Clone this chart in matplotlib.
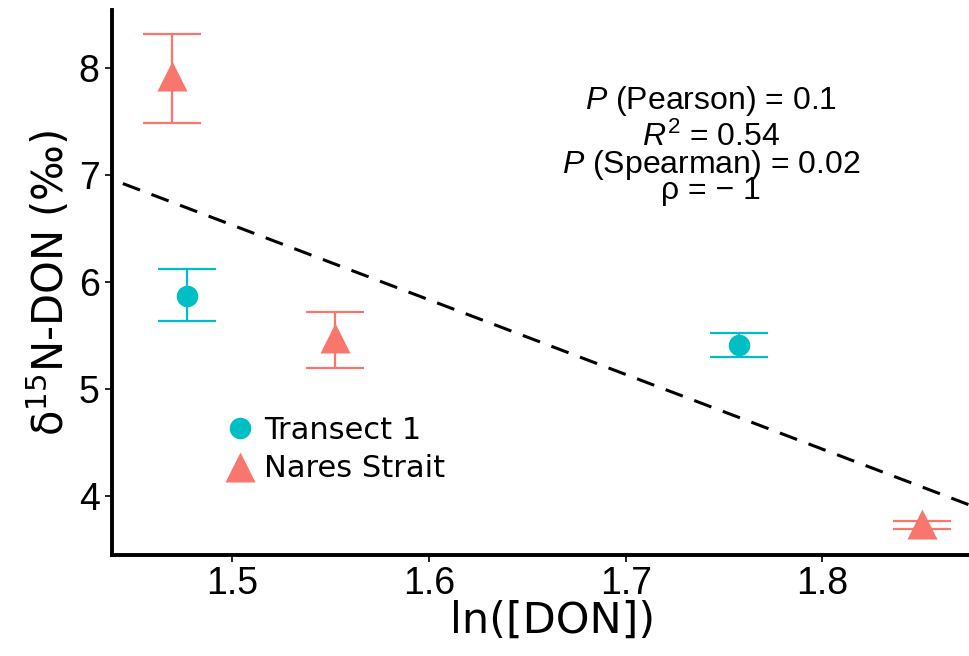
import numpy as np
import matplotlib
matplotlib.use("Agg")
import matplotlib.pyplot as plt
from matplotlib.lines import Line2D

# transect 1 (circles) and nares strait (triangles)
t1_x = [1.477, 1.7575]
t1_y = [5.87, 5.41]
t1_lo = [5.63, 5.30]
t1_hi = [6.12, 5.52]

ns_x = [1.4695, 1.5524, 1.8506]
ns_y = [7.92, 5.48, 3.74]
ns_lo = [7.48, 5.20, 3.69]
ns_hi = [8.31, 5.72, 3.77]

stats_lines = [r"$\mathit{P}$ (Pearson) = 0.1",
               r"$\mathit{R}^2$ = 0.54",
               r"$\mathit{P}$ (Spearman) = 0.02",
               "ρ = − 1"]

teal = "#00BFC4"
salmon = "#F8766D"

plt.rcParams["mathtext.fontset"] = "custom"
plt.rcParams["mathtext.rm"] = "Liberation Sans"
plt.rcParams["mathtext.it"] = "Liberation Sans:italic"

fig = plt.figure(figsize=(9.7, 6.56), dpi=100)
ax = fig.add_axes([0.1155, 0.154, 0.8845, 0.831])

# regression line through all points
allx = np.array(t1_x + ns_x)
ally = np.array(t1_y + ns_y)
slope, icpt = np.polyfit(allx, ally, 1)
xx = np.array([1.43, 1.88])
ax.plot(xx, slope * xx + icpt, color="k", lw=2.2, ls=(0, (6, 4)), zorder=1)

for x, y, lo, hi, col, mk, ms in [(t1_x, t1_y, t1_lo, t1_hi, teal, "o", 15.5),
                                  (ns_x, ns_y, ns_lo, ns_hi, salmon, "^", 21)]:
    y = np.array(y)
    yerr = [y - np.array(lo), np.array(hi) - y]
    ax.errorbar(x, y, yerr=yerr, fmt="none", ecolor=col, elinewidth=1.6,
                capsize=21, capthick=1.6, zorder=2)
    ax.plot(x, y, ls="none", marker=mk, color=col, ms=ms, mec="none", zorder=3)

for i, s in enumerate(stats_lines):
    ax.text(1.7433, [7.69, 7.35, 7.09, 6.85][i], s, ha="center", va="center",
            fontsize=23, color="k", family="Liberation Sans", zorder=4)

handles = [Line2D([], [], ls="none", marker="o", color=teal, ms=15.5, mec="none"),
           Line2D([], [], ls="none", marker="^", color=salmon, ms=21, mec="none")]
ax.legend(handles, ["Transect 1", "Nares Strait"], loc="center left",
          bbox_to_anchor=(0.09, 0.193), frameon=False, fontsize=22,
          handletextpad=0.05, labelspacing=0.3, handlelength=1.5)

ax.set_xlim(1.439, 1.875)
ax.set_ylim(3.45, 8.54)
ax.set_xticks([1.5, 1.6, 1.7, 1.8])
ax.set_yticks([4, 5, 6, 7, 8])
ax.set_xticklabels(["1.5", "1.6", "1.7", "1.8"])
ax.set_yticklabels(["4", "5", "6", "7", "8"])
for lab in ax.get_xticklabels() + ax.get_yticklabels():
    lab.set_family("Liberation Sans")
    lab.set_fontsize(27)
ax.tick_params(axis="x", length=5, width=1.2, color="k", pad=3)
ax.tick_params(axis="y", length=5, width=1.2, color="k", pad=4)

for sp in ["top", "right"]:
    ax.spines[sp].set_visible(False)
for sp in ["left", "bottom"]:
    ax.spines[sp].set_linewidth(2.8)

ax.set_xlabel("ln([DON])", fontsize=31)
ax.xaxis.set_label_coords(0.514, -0.082)
ax.set_ylabel(r"$\mathregular{\delta^{15}}$N-DON (‰)", fontsize=30)
ax.yaxis.label.set_family("DejaVu Sans")
ax.yaxis.set_label_coords(-0.045, 0.5)

fig.savefig("out.png", dpi=100)
